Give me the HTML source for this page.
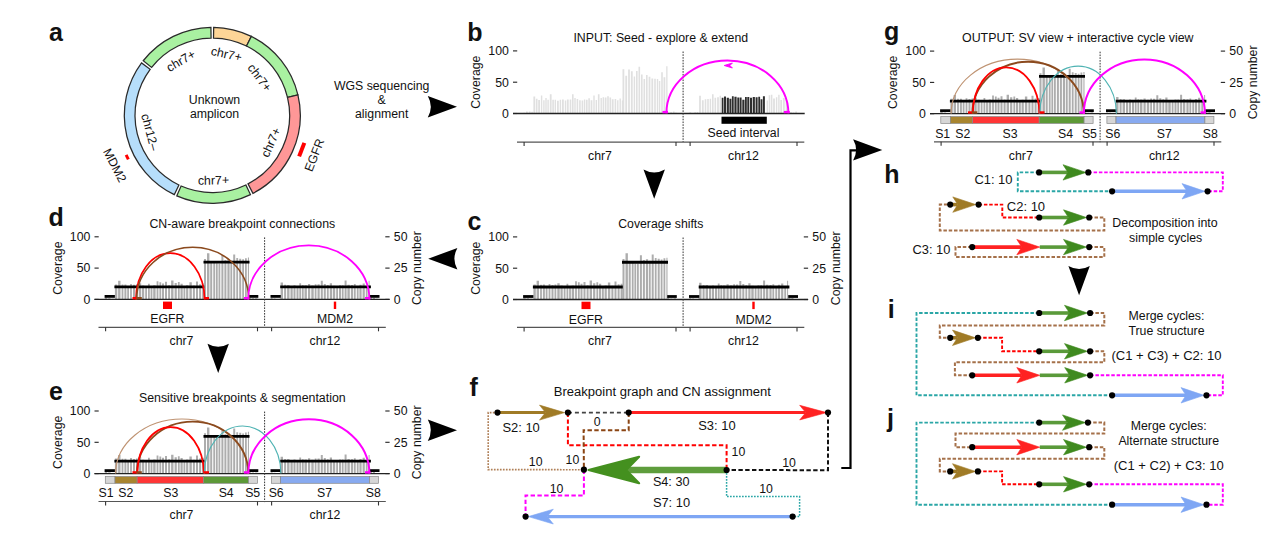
<!DOCTYPE html>
<html><head><meta charset="utf-8"><style>
html,body{margin:0;padding:0;background:#fff;}
svg{display:block;}
text{font-family:"Liberation Sans",sans-serif;fill:#111;}
</style></head><body>
<svg width="1269" height="535" viewBox="0 0 1269 535">
<rect width="1269" height="535" fill="#fff"/>
<path d="M213.68,27.31 A88.0,88.0 0 0 1 251.29,36.41 L246.55,46.00 A77.3,77.3 0 0 0 213.51,38.01 Z" fill="#fdd597" stroke="#2a2a2a" stroke-width="1.25"/>
<path d="M251.29,36.41 A88.0,88.0 0 0 1 297.90,94.91 L287.50,97.39 A77.3,77.3 0 0 0 246.55,46.00 Z" fill="#a9f1a1" stroke="#2a2a2a" stroke-width="1.25"/>
<path d="M297.90,94.91 A88.0,88.0 0 0 1 252.93,193.36 L247.99,183.87 A77.3,77.3 0 0 0 287.50,97.39 Z" fill="#ff9797" stroke="#2a2a2a" stroke-width="1.25"/>
<path d="M250.46,194.59 A88.0,88.0 0 0 1 176.79,195.82 L181.11,186.03 A77.3,77.3 0 0 0 245.82,184.95 Z" fill="#a9f1a1" stroke="#2a2a2a" stroke-width="1.25"/>
<path d="M174.28,194.66 A88.0,88.0 0 0 1 141.56,62.96 L150.16,69.32 A77.3,77.3 0 0 0 178.90,185.01 Z" fill="#b6defb" stroke="#2a2a2a" stroke-width="1.25"/>
<path d="M143.24,60.76 A88.0,88.0 0 0 1 210.92,27.31 L211.09,38.01 A77.3,77.3 0 0 0 151.64,67.39 Z" fill="#a9f1a1" stroke="#2a2a2a" stroke-width="1.25"/>
<text x="0" y="0" font-size="12.3" text-anchor="middle" fill="#111" transform="translate(180.80 60.74) rotate(330.00) translate(0 4.2)">chr7+</text>
<text x="0" y="0" font-size="12.3" text-anchor="middle" fill="#111" transform="translate(226.43 54.11) rotate(13.00) translate(0 4.2)">chr7+</text>
<text x="0" y="0" font-size="12.3" text-anchor="middle" fill="#111" transform="translate(259.65 77.64) rotate(53.00) translate(0 4.2)">chr7+</text>
<text x="0" y="0" font-size="12.3" text-anchor="middle" fill="#111" transform="translate(270.85 142.35) rotate(-65.20) translate(0 4.2)">chr7+</text>
<text x="0" y="0" font-size="12.3" text-anchor="middle" fill="#111" transform="translate(213.43 180.29) rotate(-1.00) translate(0 4.2)">chr7+</text>
<text x="0" y="0" font-size="12.3" text-anchor="middle" fill="#111" transform="translate(150.00 131.99) rotate(75.00) translate(0 4.2)">chr12–</text>
<text x="214.50" y="104.20" font-size="12.3" text-anchor="middle" >Unknown</text>
<text x="214.50" y="117.60" font-size="12.3" text-anchor="middle" >amplicon</text>
<rect x="-7.25" y="-2.00" width="14.5" height="4.0" fill="#ff0000" transform="translate(301.74 149.63) rotate(111.00)"/>
<rect x="-2.50" y="-1.50" width="5.0" height="3.0" fill="#ff0000" transform="translate(127.24 157.15) rotate(243.80)"/>
<text x="0" y="0" font-size="12.3" text-anchor="middle" fill="#111" transform="translate(314.41 155.11) rotate(-68.70) translate(0 4.2)">EGFR</text>
<text x="0" y="0" font-size="12.3" text-anchor="middle" fill="#111" transform="translate(114.82 165.40) rotate(62.80) translate(0 4.2)">MDM2</text>
<text x="49.00" y="40.80" font-size="25" font-weight="bold" fill="#000" >a</text>
<text x="381.70" y="89.80" font-size="12.3" text-anchor="middle" textLength="95.50" lengthAdjust="spacingAndGlyphs" >WGS sequencing</text>
<text x="381.70" y="104.00" font-size="12.3" text-anchor="middle" >&amp;</text>
<text x="381.70" y="118.00" font-size="12.3" text-anchor="middle" >alignment</text>
<path d="M457.00,106.70 L427.80,96.00 Q433.80,106.70 427.80,117.40 Z" fill="#000"/>
<text x="660.80" y="41.90" font-size="12.3" text-anchor="middle" textLength="174.70" lengthAdjust="spacingAndGlyphs" >INPUT: Seed - explore &amp; extend</text>
<line x1="513.00" y1="50.90" x2="517.20" y2="50.90" stroke="#222" stroke-width="1.1" />
<text x="508.90" y="55.20" font-size="12.3" text-anchor="end" >100</text>
<line x1="513.00" y1="82.20" x2="517.20" y2="82.20" stroke="#222" stroke-width="1.1" />
<text x="508.90" y="86.50" font-size="12.3" text-anchor="end" >50</text>
<line x1="513.00" y1="113.50" x2="517.20" y2="113.50" stroke="#222" stroke-width="1.1" />
<text x="508.90" y="117.80" font-size="12.3" text-anchor="end" >0</text>
<text x="476.00" y="82.20" font-size="12.3" text-anchor="middle" transform="rotate(-90.00 476.00 82.20)" dy="4.3">Coverage</text>
<path d="M523.30,113.50h1.80v-0.79h-1.80zM526.00,113.50h1.80v-2.09h-1.80zM528.80,113.50h1.80v-2.05h-1.80zM531.30,113.50h1.60v-1.77h-1.60zM533.40,113.50h1.80v-17.05h-1.80zM535.90,113.50h1.60v-14.68h-1.60zM538.20,113.50h1.80v-13.53h-1.80zM540.90,113.50h1.40v-17.97h-1.40zM543.20,113.50h1.40v-13.23h-1.40zM545.30,113.50h1.40v-15.48h-1.40zM547.40,113.50h1.40v-13.78h-1.40zM549.80,113.50h1.80v-19.29h-1.80zM552.30,113.50h1.60v-13.82h-1.60zM554.60,113.50h1.40v-13.70h-1.40zM557.00,113.50h1.80v-12.78h-1.80zM559.70,113.50h1.40v-13.86h-1.40zM562.00,113.50h1.80v-13.88h-1.80zM564.80,113.50h1.40v-12.97h-1.40zM566.90,113.50h1.80v-14.02h-1.80zM569.70,113.50h1.60v-14.05h-1.60zM572.00,113.50h1.60v-19.24h-1.60zM574.30,113.50h1.40v-15.42h-1.40zM576.60,113.50h1.60v-14.57h-1.60zM579.10,113.50h1.60v-13.15h-1.60zM581.60,113.50h1.60v-12.90h-1.60zM583.90,113.50h1.40v-13.96h-1.40zM586.00,113.50h1.60v-13.74h-1.60zM588.30,113.50h1.60v-15.18h-1.60zM590.60,113.50h1.80v-13.29h-1.80zM593.30,113.50h1.40v-17.91h-1.40zM595.60,113.50h1.40v-13.60h-1.40zM597.90,113.50h1.60v-19.33h-1.60zM600.50,113.50h1.40v-15.58h-1.40zM602.60,113.50h1.40v-16.21h-1.40zM604.70,113.50h1.80v-15.91h-1.80zM607.20,113.50h1.60v-17.23h-1.60zM609.50,113.50h1.60v-16.00h-1.60zM611.80,113.50h1.80v-14.36h-1.80zM614.60,113.50h1.60v-14.45h-1.60zM617.10,113.50h1.40v-13.16h-1.40zM619.50,113.50h1.40v-14.97h-1.40zM621.80,113.50h0.70v-13.08h-0.70zM622.50,113.50h1.80v-44.15h-1.80zM625.30,113.50h1.80v-37.66h-1.80zM628.10,113.50h1.80v-44.07h-1.80zM630.90,113.50h1.80v-42.18h-1.80zM633.70,113.50h1.40v-37.07h-1.40zM636.00,113.50h1.60v-42.55h-1.60zM638.50,113.50h1.60v-46.72h-1.60zM641.00,113.50h1.60v-39.02h-1.60zM643.50,113.50h1.60v-34.55h-1.60zM646.00,113.50h1.60v-38.50h-1.60zM648.60,113.50h1.80v-36.70h-1.80zM651.40,113.50h1.80v-35.01h-1.80zM654.20,113.50h1.60v-34.77h-1.60zM656.80,113.50h1.40v-34.54h-1.40zM658.90,113.50h1.40v-32.49h-1.40zM661.20,113.50h1.60v-41.24h-1.60zM663.50,113.50h1.80v-36.32h-1.80zM666.20,113.50h1.30v-47.14h-1.30zM667.50,113.50h1.80v-0.87h-1.80zM670.20,113.50h1.80v-1.27h-1.80zM673.00,113.50h1.60v-2.12h-1.60zM675.30,113.50h1.30v-1.08h-1.30zM689.30,113.50h1.80v-1.32h-1.80zM692.00,113.50h1.40v-0.60h-1.40zM694.30,113.50h1.80v-1.21h-1.80zM696.80,113.50h1.40v-1.46h-1.40zM699.10,113.50h1.80v-17.78h-1.80zM701.90,113.50h1.80v-13.26h-1.80zM704.70,113.50h1.60v-14.28h-1.60zM707.20,113.50h1.60v-14.45h-1.60zM709.70,113.50h1.40v-14.86h-1.40zM712.00,113.50h1.60v-19.20h-1.60zM714.50,113.50h1.60v-15.74h-1.60zM717.10,113.50h1.80v-16.14h-1.80zM719.60,113.50h1.40v-17.65h-1.40zM766.60,113.50h1.40v-13.01h-1.40zM768.70,113.50h1.40v-18.36h-1.40zM770.80,113.50h1.60v-18.81h-1.60zM773.10,113.50h1.80v-15.03h-1.80zM775.90,113.50h1.40v-16.26h-1.40zM778.20,113.50h1.40v-18.66h-1.40zM780.30,113.50h1.80v-13.52h-1.80zM783.10,113.50h1.60v-15.38h-1.60zM785.70,113.50h1.80v-13.19h-1.80zM788.10,113.50h1.40v-0.32h-1.40zM790.20,113.50h1.60v-1.60h-1.60zM792.70,113.50h1.60v-0.97h-1.60zM795.30,113.50h1.60v-2.04h-1.60z" fill="#e0e0e0"/>
<path d="M721.70,113.50h1.80v-15.85h-1.80zM724.00,113.50h2.00v-16.98h-2.00zM726.70,113.50h2.20v-15.81h-2.20zM729.40,113.50h2.00v-14.68h-2.00zM731.90,113.50h1.80v-17.26h-1.80zM734.40,113.50h2.20v-16.70h-2.20zM737.30,113.50h2.00v-16.01h-2.00zM739.80,113.50h1.80v-16.00h-1.80zM742.30,113.50h2.20v-13.83h-2.20zM745.00,113.50h1.80v-16.43h-1.80zM747.30,113.50h2.00v-16.51h-2.00zM750.00,113.50h2.00v-15.86h-2.00zM752.70,113.50h2.20v-16.53h-2.20zM755.60,113.50h2.00v-16.32h-2.00zM758.30,113.50h1.80v-16.85h-1.80zM760.60,113.50h1.80v-14.25h-1.80zM762.90,113.50h2.00v-17.16h-2.00z" fill="#2e2e2e"/>
<line x1="513.00" y1="113.50" x2="804.70" y2="113.50" stroke="#222" stroke-width="1.3" />
<line x1="683.10" y1="51.50" x2="683.10" y2="142.00" stroke="#333" stroke-width="1" stroke-dasharray="1.6,1.2"/>
<line x1="517.00" y1="142.04" x2="804.30" y2="142.04" stroke="#555" stroke-width="1.2" />
<line x1="524.10" y1="142.04" x2="524.10" y2="146.04" stroke="#333" stroke-width="1.1" />
<line x1="676.00" y1="142.04" x2="676.00" y2="146.04" stroke="#333" stroke-width="1.1" />
<line x1="690.10" y1="142.04" x2="690.10" y2="146.04" stroke="#333" stroke-width="1.1" />
<line x1="797.00" y1="142.04" x2="797.00" y2="146.04" stroke="#333" stroke-width="1.1" />
<text x="600.00" y="159.78" font-size="12.3" text-anchor="middle" >chr7</text>
<text x="743.50" y="159.78" font-size="12.3" text-anchor="middle" >chr12</text>
<rect x="721.50" y="116.70" width="45.3" height="7.1" fill="#000"/>
<text x="743.50" y="136.50" font-size="12.3" text-anchor="middle" >Seed interval</text>
<path d="M666.4,113.3 A61,52.8 0 0 1 788.4,113.3" fill="none" stroke="#ff00ff" stroke-width="1.9"/>
<line x1="662.50" y1="112.10" x2="668.00" y2="112.10" stroke="#ff00ff" stroke-width="2.4" />
<line x1="783.80" y1="112.10" x2="789.80" y2="112.10" stroke="#ff00ff" stroke-width="2.4" />
<path d="M724.2,65.5 L732.4,63.0 L729.9,65.5 L732.4,68.0 Z" fill="#ff00ff" stroke="#ff00ff" stroke-width="0.9" stroke-linejoin="round"/>
<text x="467.30" y="40.80" font-size="25" font-weight="bold" fill="#000" >b</text>
<path d="M654.20,198.80 L643.50,169.60 Q654.20,175.60 664.90,169.60 Z" fill="#000"/>
<text x="660.80" y="227.90" font-size="12.3" text-anchor="middle" textLength="85.10" lengthAdjust="spacingAndGlyphs" >Coverage shifts</text>
<line x1="513.00" y1="236.90" x2="517.20" y2="236.90" stroke="#222" stroke-width="1.1" />
<text x="508.90" y="241.20" font-size="12.3" text-anchor="end" >100</text>
<line x1="513.00" y1="268.20" x2="517.20" y2="268.20" stroke="#222" stroke-width="1.1" />
<text x="508.90" y="272.50" font-size="12.3" text-anchor="end" >50</text>
<line x1="513.00" y1="299.50" x2="517.20" y2="299.50" stroke="#222" stroke-width="1.1" />
<text x="508.90" y="303.80" font-size="12.3" text-anchor="end" >0</text>
<text x="476.00" y="268.20" font-size="12.3" text-anchor="middle" transform="rotate(-90.00 476.00 268.20)" dy="4.3">Coverage</text>
<line x1="803.80" y1="236.90" x2="808.10" y2="236.90" stroke="#222" stroke-width="1.1" />
<text x="812.30" y="241.20" font-size="12.3" >50</text>
<line x1="803.80" y1="268.20" x2="808.10" y2="268.20" stroke="#222" stroke-width="1.1" />
<text x="812.30" y="272.50" font-size="12.3" >25</text>
<line x1="803.80" y1="299.50" x2="808.10" y2="299.50" stroke="#222" stroke-width="1.1" />
<text x="812.30" y="303.80" font-size="12.3" >0</text>
<text x="835.30" y="268.20" font-size="12.3" text-anchor="middle" transform="rotate(-90.00 835.30 268.20)" dy="4.3">Copy number</text>
<path d="M523.30,299.50h2.40v-1.94h-2.40zM526.70,299.50h2.40v-1.26h-2.40zM530.20,299.50h2.00v-0.65h-2.00zM533.40,299.50h2.40v-14.98h-2.40zM536.60,299.50h2.40v-18.69h-2.40zM540.10,299.50h1.80v-14.86h-1.80zM542.90,299.50h2.00v-14.95h-2.00zM545.70,299.50h1.80v-12.90h-1.80zM548.60,299.50h1.80v-15.50h-1.80zM551.50,299.50h2.00v-14.59h-2.00zM554.50,299.50h1.80v-15.09h-1.80zM557.30,299.50h2.40v-16.27h-2.40zM560.50,299.50h2.20v-13.88h-2.20zM563.70,299.50h1.80v-13.02h-1.80zM566.50,299.50h1.80v-15.74h-1.80zM569.10,299.50h1.80v-13.52h-1.80zM571.70,299.50h2.40v-14.09h-2.40zM575.10,299.50h1.80v-18.18h-1.80zM577.90,299.50h1.80v-17.19h-1.80zM580.50,299.50h2.00v-15.87h-2.00zM583.50,299.50h2.00v-17.56h-2.00zM586.60,299.50h2.00v-14.24h-2.00zM589.60,299.50h2.40v-18.90h-2.40zM593.10,299.50h2.20v-16.35h-2.20zM596.40,299.50h1.80v-17.31h-1.80zM599.00,299.50h2.20v-15.68h-2.20zM602.00,299.50h1.80v-13.50h-1.80zM604.60,299.50h2.20v-14.07h-2.20zM607.90,299.50h2.40v-17.10h-2.40zM611.40,299.50h2.00v-13.86h-2.00zM614.50,299.50h2.00v-18.01h-2.00zM617.60,299.50h2.00v-15.18h-2.00zM620.60,299.50h1.80v-15.80h-1.80zM622.50,299.50h2.00v-40.41h-2.00zM625.50,299.50h2.40v-46.19h-2.40zM628.70,299.50h2.00v-37.14h-2.00zM631.80,299.50h1.80v-37.47h-1.80zM634.40,299.50h1.80v-36.12h-1.80zM637.00,299.50h1.80v-35.98h-1.80zM639.90,299.50h2.00v-44.36h-2.00zM642.90,299.50h2.00v-39.45h-2.00zM645.90,299.50h2.20v-40.16h-2.20zM648.90,299.50h1.80v-38.76h-1.80zM651.70,299.50h2.00v-45.01h-2.00zM654.80,299.50h1.80v-41.43h-1.80zM657.70,299.50h2.00v-40.75h-2.00zM660.70,299.50h1.80v-40.06h-1.80zM663.50,299.50h1.80v-41.20h-1.80zM666.40,299.50h1.10v-41.80h-1.10zM667.50,299.50h1.80v-2.19h-1.80zM670.30,299.50h2.20v-1.04h-2.20zM673.60,299.50h2.40v-1.14h-2.40zM689.30,299.50h1.80v-1.29h-1.80zM692.20,299.50h1.80v-0.89h-1.80zM694.80,299.50h2.40v-0.34h-2.40zM698.30,299.50h0.80v-1.24h-0.80zM699.10,299.50h2.40v-16.78h-2.40zM702.60,299.50h2.00v-14.59h-2.00zM705.60,299.50h2.40v-14.52h-2.40zM709.00,299.50h2.20v-13.47h-2.20zM712.00,299.50h2.00v-14.12h-2.00zM715.00,299.50h2.00v-13.25h-2.00zM717.80,299.50h1.80v-16.10h-1.80zM720.40,299.50h1.80v-14.35h-1.80zM723.00,299.50h2.40v-14.11h-2.40zM726.50,299.50h2.20v-15.28h-2.20zM729.80,299.50h2.40v-13.89h-2.40zM733.20,299.50h1.80v-15.15h-1.80zM736.00,299.50h2.20v-15.05h-2.20zM739.30,299.50h2.00v-18.54h-2.00zM742.30,299.50h2.00v-15.50h-2.00zM745.40,299.50h1.80v-14.34h-1.80zM748.30,299.50h2.20v-16.13h-2.20zM751.30,299.50h2.40v-13.67h-2.40zM754.70,299.50h1.80v-13.40h-1.80zM757.50,299.50h2.00v-14.15h-2.00zM760.30,299.50h1.80v-14.21h-1.80zM763.10,299.50h2.00v-18.98h-2.00zM765.90,299.50h2.40v-14.70h-2.40zM769.40,299.50h2.20v-14.40h-2.20zM772.40,299.50h1.80v-15.30h-1.80zM775.30,299.50h1.80v-13.52h-1.80zM777.90,299.50h2.20v-14.65h-2.20zM781.10,299.50h2.20v-15.96h-2.20zM784.30,299.50h1.80v-12.90h-1.80zM787.10,299.50h1.00v-18.69h-1.00zM788.10,299.50h2.40v-1.82h-2.40zM791.30,299.50h2.20v-1.60h-2.20zM794.30,299.50h2.40v-0.58h-2.40z" fill="#adadad"/>
<line x1="513.00" y1="299.50" x2="808.10" y2="299.50" stroke="#222" stroke-width="1.3" />
<line x1="683.10" y1="237.50" x2="683.10" y2="328.00" stroke="#333" stroke-width="1" stroke-dasharray="1.6,1.2"/>
<line x1="517.00" y1="327.40" x2="804.30" y2="327.40" stroke="#555" stroke-width="1.2" />
<line x1="524.10" y1="327.40" x2="524.10" y2="331.40" stroke="#333" stroke-width="1.1" />
<line x1="676.00" y1="327.40" x2="676.00" y2="331.40" stroke="#333" stroke-width="1.1" />
<line x1="690.10" y1="327.40" x2="690.10" y2="331.40" stroke="#333" stroke-width="1.1" />
<line x1="797.00" y1="327.40" x2="797.00" y2="331.40" stroke="#333" stroke-width="1.1" />
<text x="600.00" y="345.30" font-size="12.3" text-anchor="middle" >chr7</text>
<text x="743.50" y="345.30" font-size="12.3" text-anchor="middle" >chr12</text>
<line x1="523.10" y1="296.50" x2="533.40" y2="296.50" stroke="#000" stroke-width="2.8" />
<line x1="532.90" y1="286.98" x2="622.80" y2="286.98" stroke="#000" stroke-width="2.8" />
<line x1="622.00" y1="262.25" x2="668.00" y2="262.25" stroke="#000" stroke-width="2.8" />
<line x1="667.20" y1="296.50" x2="676.80" y2="296.50" stroke="#000" stroke-width="2.8" />
<line x1="689.00" y1="296.50" x2="699.30" y2="296.50" stroke="#000" stroke-width="2.8" />
<line x1="698.70" y1="286.98" x2="789.40" y2="286.98" stroke="#000" stroke-width="2.8" />
<line x1="788.20" y1="296.50" x2="798.00" y2="296.50" stroke="#000" stroke-width="2.8" />
<rect x="581.50" y="301.70" width="9.0" height="7.4" fill="#ff0000"/>
<rect x="752.30" y="301.70" width="2.4" height="7.4" fill="#ff0000"/>
<text x="585.90" y="323.50" font-size="12.3" text-anchor="middle" >EGFR</text>
<text x="753.50" y="323.50" font-size="12.3" text-anchor="middle" >MDM2</text>
<text x="467.60" y="230.00" font-size="25" font-weight="bold" fill="#000" >c</text>
<path d="M428.20,258.70 L457.40,248.00 Q451.40,258.70 457.40,269.40 Z" fill="#000"/>
<text x="242.30" y="227.80" font-size="12.3" text-anchor="middle" textLength="185.80" lengthAdjust="spacingAndGlyphs" >CN-aware breakpoint connections</text>
<line x1="94.50" y1="236.80" x2="98.70" y2="236.80" stroke="#222" stroke-width="1.1" />
<text x="90.40" y="241.10" font-size="12.3" text-anchor="end" >100</text>
<line x1="94.50" y1="268.10" x2="98.70" y2="268.10" stroke="#222" stroke-width="1.1" />
<text x="90.40" y="272.40" font-size="12.3" text-anchor="end" >50</text>
<line x1="94.50" y1="299.40" x2="98.70" y2="299.40" stroke="#222" stroke-width="1.1" />
<text x="90.40" y="303.70" font-size="12.3" text-anchor="end" >0</text>
<text x="57.50" y="268.10" font-size="12.3" text-anchor="middle" transform="rotate(-90.00 57.50 268.10)" dy="4.3">Coverage</text>
<line x1="385.30" y1="236.80" x2="389.60" y2="236.80" stroke="#222" stroke-width="1.1" />
<text x="393.80" y="241.10" font-size="12.3" >50</text>
<line x1="385.30" y1="268.10" x2="389.60" y2="268.10" stroke="#222" stroke-width="1.1" />
<text x="393.80" y="272.40" font-size="12.3" >25</text>
<line x1="385.30" y1="299.40" x2="389.60" y2="299.40" stroke="#222" stroke-width="1.1" />
<text x="393.80" y="303.70" font-size="12.3" >0</text>
<text x="416.80" y="268.10" font-size="12.3" text-anchor="middle" transform="rotate(-90.00 416.80 268.10)" dy="4.3">Copy number</text>
<path d="M104.80,299.40h2.40v-1.94h-2.40zM108.20,299.40h2.40v-1.26h-2.40zM111.70,299.40h2.00v-0.65h-2.00zM114.90,299.40h2.40v-14.98h-2.40zM118.10,299.40h2.40v-18.69h-2.40zM121.60,299.40h1.80v-14.86h-1.80zM124.40,299.40h2.00v-14.95h-2.00zM127.20,299.40h1.80v-12.90h-1.80zM130.10,299.40h1.80v-15.50h-1.80zM133.00,299.40h2.00v-14.59h-2.00zM136.00,299.40h1.80v-15.09h-1.80zM138.80,299.40h2.40v-16.27h-2.40zM142.00,299.40h2.20v-13.88h-2.20zM145.20,299.40h1.80v-13.02h-1.80zM148.00,299.40h1.80v-15.74h-1.80zM150.60,299.40h1.80v-13.52h-1.80zM153.20,299.40h2.40v-14.09h-2.40zM156.60,299.40h1.80v-18.18h-1.80zM159.40,299.40h1.80v-17.19h-1.80zM162.00,299.40h2.00v-15.87h-2.00zM165.00,299.40h2.00v-17.56h-2.00zM168.10,299.40h2.00v-14.24h-2.00zM171.10,299.40h2.40v-18.90h-2.40zM174.60,299.40h2.20v-16.35h-2.20zM177.90,299.40h1.80v-17.31h-1.80zM180.50,299.40h2.20v-15.68h-2.20zM183.50,299.40h1.80v-13.50h-1.80zM186.10,299.40h2.20v-14.07h-2.20zM189.40,299.40h2.40v-17.10h-2.40zM192.90,299.40h2.00v-13.86h-2.00zM196.00,299.40h2.00v-18.01h-2.00zM199.10,299.40h2.00v-15.18h-2.00zM202.10,299.40h1.80v-15.80h-1.80zM204.00,299.40h2.00v-40.41h-2.00zM207.00,299.40h2.40v-46.19h-2.40zM210.20,299.40h2.00v-37.14h-2.00zM213.30,299.40h1.80v-37.47h-1.80zM215.90,299.40h1.80v-36.12h-1.80zM218.50,299.40h1.80v-35.98h-1.80zM221.40,299.40h2.00v-44.36h-2.00zM224.40,299.40h2.00v-39.45h-2.00zM227.40,299.40h2.20v-40.16h-2.20zM230.40,299.40h1.80v-38.76h-1.80zM233.20,299.40h2.00v-45.01h-2.00zM236.30,299.40h1.80v-41.43h-1.80zM239.20,299.40h2.00v-40.75h-2.00zM242.20,299.40h1.80v-40.06h-1.80zM245.00,299.40h1.80v-41.20h-1.80zM247.90,299.40h1.10v-41.80h-1.10zM249.00,299.40h1.80v-2.19h-1.80zM251.80,299.40h2.20v-1.04h-2.20zM255.10,299.40h2.40v-1.14h-2.40zM270.80,299.40h1.80v-1.29h-1.80zM273.70,299.40h1.80v-0.89h-1.80zM276.30,299.40h2.40v-0.34h-2.40zM279.80,299.40h0.80v-1.24h-0.80zM280.60,299.40h2.40v-16.78h-2.40zM284.10,299.40h2.00v-14.59h-2.00zM287.10,299.40h2.40v-14.52h-2.40zM290.50,299.40h2.20v-13.47h-2.20zM293.50,299.40h2.00v-14.12h-2.00zM296.50,299.40h2.00v-13.25h-2.00zM299.30,299.40h1.80v-16.10h-1.80zM301.90,299.40h1.80v-14.35h-1.80zM304.50,299.40h2.40v-14.11h-2.40zM308.00,299.40h2.20v-15.28h-2.20zM311.30,299.40h2.40v-13.89h-2.40zM314.70,299.40h1.80v-15.15h-1.80zM317.50,299.40h2.20v-15.05h-2.20zM320.80,299.40h2.00v-18.54h-2.00zM323.80,299.40h2.00v-15.50h-2.00zM326.90,299.40h1.80v-14.34h-1.80zM329.80,299.40h2.20v-16.13h-2.20zM332.80,299.40h2.40v-13.67h-2.40zM336.20,299.40h1.80v-13.40h-1.80zM339.00,299.40h2.00v-14.15h-2.00zM341.80,299.40h1.80v-14.21h-1.80zM344.60,299.40h2.00v-18.98h-2.00zM347.40,299.40h2.40v-14.70h-2.40zM350.90,299.40h2.20v-14.40h-2.20zM353.90,299.40h1.80v-15.30h-1.80zM356.80,299.40h1.80v-13.52h-1.80zM359.40,299.40h2.20v-14.65h-2.20zM362.60,299.40h2.20v-15.96h-2.20zM365.80,299.40h1.80v-12.90h-1.80zM368.60,299.40h1.00v-18.69h-1.00zM369.60,299.40h2.40v-1.82h-2.40zM372.80,299.40h2.20v-1.60h-2.20zM375.80,299.40h2.40v-0.58h-2.40z" fill="#adadad"/>
<line x1="94.50" y1="299.40" x2="389.60" y2="299.40" stroke="#222" stroke-width="1.3" />
<line x1="264.60" y1="237.40" x2="264.60" y2="327.90" stroke="#333" stroke-width="1" stroke-dasharray="1.6,1.2"/>
<line x1="98.50" y1="327.30" x2="385.80" y2="327.30" stroke="#555" stroke-width="1.2" />
<line x1="105.60" y1="327.30" x2="105.60" y2="331.30" stroke="#333" stroke-width="1.1" />
<line x1="257.50" y1="327.30" x2="257.50" y2="331.30" stroke="#333" stroke-width="1.1" />
<line x1="271.60" y1="327.30" x2="271.60" y2="331.30" stroke="#333" stroke-width="1.1" />
<line x1="378.50" y1="327.30" x2="378.50" y2="331.30" stroke="#333" stroke-width="1.1" />
<text x="181.50" y="345.20" font-size="12.3" text-anchor="middle" >chr7</text>
<text x="325.00" y="345.20" font-size="12.3" text-anchor="middle" >chr12</text>
<line x1="104.60" y1="296.40" x2="114.90" y2="296.40" stroke="#000" stroke-width="2.8" />
<line x1="114.40" y1="286.88" x2="204.30" y2="286.88" stroke="#000" stroke-width="2.8" />
<line x1="203.50" y1="262.15" x2="249.50" y2="262.15" stroke="#000" stroke-width="2.8" />
<line x1="248.70" y1="296.40" x2="258.30" y2="296.40" stroke="#000" stroke-width="2.8" />
<line x1="270.50" y1="296.40" x2="280.80" y2="296.40" stroke="#000" stroke-width="2.8" />
<line x1="280.20" y1="286.88" x2="370.90" y2="286.88" stroke="#000" stroke-width="2.8" />
<line x1="369.70" y1="296.40" x2="379.50" y2="296.40" stroke="#000" stroke-width="2.8" />
<path d="M135.90,299.40 A34.35,46.30 0 0 1 204.60,299.40" fill="none" stroke="#ff0000" stroke-width="1.7"/>
<path d="M136.60,299.40 A56.10,52.20 0 0 1 248.80,299.40" fill="none" stroke="#8b4a1e" stroke-width="1.6"/>
<path d="M248.20,299.40 A60.60,54.00 0 0 1 369.40,299.40" fill="none" stroke="#ff00ff" stroke-width="1.8"/>
<line x1="132.50" y1="298.20" x2="136.50" y2="298.20" stroke="#ff0000" stroke-width="2.4" />
<line x1="136.50" y1="298.20" x2="141.80" y2="298.20" stroke="#8b4a1e" stroke-width="2.4" />
<line x1="204.00" y1="298.20" x2="209.00" y2="298.20" stroke="#ff0000" stroke-width="2.4" />
<line x1="244.00" y1="298.20" x2="249.20" y2="298.20" stroke="#ff00ff" stroke-width="2.4" />
<line x1="365.00" y1="298.20" x2="370.30" y2="298.20" stroke="#ff00ff" stroke-width="2.4" />
<rect x="163.00" y="301.60" width="9.0" height="7.4" fill="#ff0000"/>
<rect x="333.80" y="301.60" width="2.4" height="7.4" fill="#ff0000"/>
<text x="167.40" y="323.40" font-size="12.3" text-anchor="middle" >EGFR</text>
<text x="335.00" y="323.40" font-size="12.3" text-anchor="middle" >MDM2</text>
<text x="48.60" y="225.80" font-size="25" font-weight="bold" fill="#000" >d</text>
<path d="M218.20,373.00 L207.50,343.80 Q218.20,349.80 228.90,343.80 Z" fill="#000"/>
<text x="242.30" y="402.00" font-size="12.3" text-anchor="middle" textLength="206.70" lengthAdjust="spacingAndGlyphs" >Sensitive breakpoints &amp; segmentation</text>
<line x1="94.50" y1="411.00" x2="98.70" y2="411.00" stroke="#222" stroke-width="1.1" />
<text x="90.40" y="415.30" font-size="12.3" text-anchor="end" >100</text>
<line x1="94.50" y1="442.30" x2="98.70" y2="442.30" stroke="#222" stroke-width="1.1" />
<text x="90.40" y="446.60" font-size="12.3" text-anchor="end" >50</text>
<line x1="94.50" y1="473.60" x2="98.70" y2="473.60" stroke="#222" stroke-width="1.1" />
<text x="90.40" y="477.90" font-size="12.3" text-anchor="end" >0</text>
<text x="57.50" y="442.30" font-size="12.3" text-anchor="middle" transform="rotate(-90.00 57.50 442.30)" dy="4.3">Coverage</text>
<line x1="385.30" y1="411.00" x2="389.60" y2="411.00" stroke="#222" stroke-width="1.1" />
<text x="393.80" y="415.30" font-size="12.3" >50</text>
<line x1="385.30" y1="442.30" x2="389.60" y2="442.30" stroke="#222" stroke-width="1.1" />
<text x="393.80" y="446.60" font-size="12.3" >25</text>
<line x1="385.30" y1="473.60" x2="389.60" y2="473.60" stroke="#222" stroke-width="1.1" />
<text x="393.80" y="477.90" font-size="12.3" >0</text>
<text x="416.80" y="442.30" font-size="12.3" text-anchor="middle" transform="rotate(-90.00 416.80 442.30)" dy="4.3">Copy number</text>
<path d="M104.80,473.60h2.40v-1.94h-2.40zM108.20,473.60h2.40v-1.26h-2.40zM111.70,473.60h2.00v-0.65h-2.00zM114.90,473.60h2.40v-14.98h-2.40zM118.10,473.60h2.40v-18.69h-2.40zM121.60,473.60h1.80v-14.86h-1.80zM124.40,473.60h2.00v-14.95h-2.00zM127.20,473.60h1.80v-12.90h-1.80zM130.10,473.60h1.80v-15.50h-1.80zM133.00,473.60h2.00v-14.59h-2.00zM136.00,473.60h1.80v-15.09h-1.80zM138.80,473.60h2.40v-16.27h-2.40zM142.00,473.60h2.20v-13.88h-2.20zM145.20,473.60h1.80v-13.02h-1.80zM148.00,473.60h1.80v-15.74h-1.80zM150.60,473.60h1.80v-13.52h-1.80zM153.20,473.60h2.40v-14.09h-2.40zM156.60,473.60h1.80v-18.18h-1.80zM159.40,473.60h1.80v-17.19h-1.80zM162.00,473.60h2.00v-15.87h-2.00zM165.00,473.60h2.00v-17.56h-2.00zM168.10,473.60h2.00v-14.24h-2.00zM171.10,473.60h2.40v-18.90h-2.40zM174.60,473.60h2.20v-16.35h-2.20zM177.90,473.60h1.80v-17.31h-1.80zM180.50,473.60h2.20v-15.68h-2.20zM183.50,473.60h1.80v-13.50h-1.80zM186.10,473.60h2.20v-14.07h-2.20zM189.40,473.60h2.40v-17.10h-2.40zM192.90,473.60h2.00v-13.86h-2.00zM196.00,473.60h2.00v-18.01h-2.00zM199.10,473.60h2.00v-15.18h-2.00zM202.10,473.60h1.80v-15.80h-1.80zM204.00,473.60h2.00v-40.41h-2.00zM207.00,473.60h2.40v-46.19h-2.40zM210.20,473.60h2.00v-37.14h-2.00zM213.30,473.60h1.80v-37.47h-1.80zM215.90,473.60h1.80v-36.12h-1.80zM218.50,473.60h1.80v-35.98h-1.80zM221.40,473.60h2.00v-44.36h-2.00zM224.40,473.60h2.00v-39.45h-2.00zM227.40,473.60h2.20v-40.16h-2.20zM230.40,473.60h1.80v-38.76h-1.80zM233.20,473.60h2.00v-45.01h-2.00zM236.30,473.60h1.80v-41.43h-1.80zM239.20,473.60h2.00v-40.75h-2.00zM242.20,473.60h1.80v-40.06h-1.80zM245.00,473.60h1.80v-41.20h-1.80zM247.90,473.60h1.10v-41.80h-1.10zM249.00,473.60h1.80v-2.19h-1.80zM251.80,473.60h2.20v-1.04h-2.20zM255.10,473.60h2.40v-1.14h-2.40zM270.80,473.60h1.80v-1.29h-1.80zM273.70,473.60h1.80v-0.89h-1.80zM276.30,473.60h2.40v-0.34h-2.40zM279.80,473.60h0.80v-1.24h-0.80zM280.60,473.60h2.40v-16.78h-2.40zM284.10,473.60h2.00v-14.59h-2.00zM287.10,473.60h2.40v-14.52h-2.40zM290.50,473.60h2.20v-13.47h-2.20zM293.50,473.60h2.00v-14.12h-2.00zM296.50,473.60h2.00v-13.25h-2.00zM299.30,473.60h1.80v-16.10h-1.80zM301.90,473.60h1.80v-14.35h-1.80zM304.50,473.60h2.40v-14.11h-2.40zM308.00,473.60h2.20v-15.28h-2.20zM311.30,473.60h2.40v-13.89h-2.40zM314.70,473.60h1.80v-15.15h-1.80zM317.50,473.60h2.20v-15.05h-2.20zM320.80,473.60h2.00v-18.54h-2.00zM323.80,473.60h2.00v-15.50h-2.00zM326.90,473.60h1.80v-14.34h-1.80zM329.80,473.60h2.20v-16.13h-2.20zM332.80,473.60h2.40v-13.67h-2.40zM336.20,473.60h1.80v-13.40h-1.80zM339.00,473.60h2.00v-14.15h-2.00zM341.80,473.60h1.80v-14.21h-1.80zM344.60,473.60h2.00v-18.98h-2.00zM347.40,473.60h2.40v-14.70h-2.40zM350.90,473.60h2.20v-14.40h-2.20zM353.90,473.60h1.80v-15.30h-1.80zM356.80,473.60h1.80v-13.52h-1.80zM359.40,473.60h2.20v-14.65h-2.20zM362.60,473.60h2.20v-15.96h-2.20zM365.80,473.60h1.80v-12.90h-1.80zM368.60,473.60h1.00v-18.69h-1.00zM369.60,473.60h2.40v-1.82h-2.40zM372.80,473.60h2.20v-1.60h-2.20zM375.80,473.60h2.40v-0.58h-2.40z" fill="#adadad"/>
<line x1="94.50" y1="473.60" x2="389.60" y2="473.60" stroke="#222" stroke-width="1.3" />
<line x1="264.60" y1="411.60" x2="264.60" y2="502.10" stroke="#333" stroke-width="1" stroke-dasharray="1.6,1.2"/>
<line x1="98.50" y1="501.50" x2="385.80" y2="501.50" stroke="#555" stroke-width="1.2" />
<line x1="105.60" y1="501.50" x2="105.60" y2="505.50" stroke="#333" stroke-width="1.1" />
<line x1="257.50" y1="501.50" x2="257.50" y2="505.50" stroke="#333" stroke-width="1.1" />
<line x1="271.60" y1="501.50" x2="271.60" y2="505.50" stroke="#333" stroke-width="1.1" />
<line x1="378.50" y1="501.50" x2="378.50" y2="505.50" stroke="#333" stroke-width="1.1" />
<text x="181.50" y="519.40" font-size="12.3" text-anchor="middle" >chr7</text>
<text x="325.00" y="519.40" font-size="12.3" text-anchor="middle" >chr12</text>
<line x1="104.60" y1="470.60" x2="114.90" y2="470.60" stroke="#000" stroke-width="2.8" />
<line x1="114.40" y1="461.08" x2="204.30" y2="461.08" stroke="#000" stroke-width="2.8" />
<line x1="203.50" y1="436.35" x2="249.50" y2="436.35" stroke="#000" stroke-width="2.8" />
<line x1="248.70" y1="470.60" x2="258.30" y2="470.60" stroke="#000" stroke-width="2.8" />
<line x1="270.50" y1="470.60" x2="280.80" y2="470.60" stroke="#000" stroke-width="2.8" />
<line x1="280.20" y1="461.08" x2="370.90" y2="461.08" stroke="#000" stroke-width="2.8" />
<line x1="369.70" y1="470.60" x2="379.50" y2="470.60" stroke="#000" stroke-width="2.8" />
<path d="M115.60,473.60 A66.35,54.60 0 0 1 248.30,473.60" fill="none" stroke="#bf9372" stroke-width="1.15"/>
<path d="M136.90,473.60 A55.70,52.00 0 0 1 248.30,473.60" fill="none" stroke="#8b4a1e" stroke-width="1.9"/>
<path d="M137.30,473.60 A33.30,46.40 0 0 1 203.90,473.60" fill="none" stroke="#ff0000" stroke-width="1.8"/>
<path d="M204.30,473.60 A38.30,47.60 0 0 1 280.90,473.60" fill="none" stroke="#4fb3b3" stroke-width="1.1"/>
<path d="M248.30,473.60 A60.55,54.30 0 0 1 369.40,473.60" fill="none" stroke="#ff00ff" stroke-width="2.0"/>
<line x1="132.50" y1="472.40" x2="136.50" y2="472.40" stroke="#ff0000" stroke-width="2.4" />
<line x1="136.50" y1="472.40" x2="141.80" y2="472.40" stroke="#8b4a1e" stroke-width="2.4" />
<line x1="204.00" y1="472.40" x2="209.00" y2="472.40" stroke="#ff0000" stroke-width="2.4" />
<line x1="244.00" y1="472.40" x2="249.20" y2="472.40" stroke="#ff00ff" stroke-width="2.4" />
<line x1="365.00" y1="472.40" x2="370.30" y2="472.40" stroke="#ff00ff" stroke-width="2.4" />
<rect x="105.30" y="476.50" width="9.70" height="6.8" fill="#d6d6d6" stroke="#888" stroke-width="0.7"/>
<rect x="115.00" y="476.50" width="22.10" height="6.8" fill="#a8852f" stroke="#888" stroke-width="0.7"/>
<rect x="137.10" y="476.50" width="66.60" height="6.8" fill="#ff3535" stroke="#888" stroke-width="0.7"/>
<rect x="203.70" y="476.50" width="44.90" height="6.8" fill="#5d9937" stroke="#888" stroke-width="0.7"/>
<rect x="248.60" y="476.50" width="9.00" height="6.8" fill="#d6d6d6" stroke="#888" stroke-width="0.7"/>
<rect x="271.40" y="476.50" width="9.10" height="6.8" fill="#d6d6d6" stroke="#888" stroke-width="0.7"/>
<rect x="280.50" y="476.50" width="88.90" height="6.8" fill="#88aaf0" stroke="#888" stroke-width="0.7"/>
<rect x="369.40" y="476.50" width="9.00" height="6.8" fill="#d6d6d6" stroke="#888" stroke-width="0.7"/>
<text x="106.00" y="497.10" font-size="12.3" text-anchor="middle" >S1</text>
<text x="125.80" y="497.10" font-size="12.3" text-anchor="middle" >S2</text>
<text x="170.80" y="497.10" font-size="12.3" text-anchor="middle" >S3</text>
<text x="226.20" y="497.10" font-size="12.3" text-anchor="middle" >S4</text>
<text x="252.70" y="497.10" font-size="12.3" text-anchor="middle" >S5</text>
<text x="276.20" y="497.10" font-size="12.3" text-anchor="middle" >S6</text>
<text x="324.50" y="497.10" font-size="12.3" text-anchor="middle" >S7</text>
<text x="373.30" y="497.10" font-size="12.3" text-anchor="middle" >S8</text>
<text x="49.00" y="400.40" font-size="25" font-weight="bold" fill="#000" >e</text>
<path d="M457.00,430.30 L427.80,419.60 Q433.80,430.30 427.80,441.00 Z" fill="#000"/>
<text x="1077.80" y="42.10" font-size="12.3" text-anchor="middle" textLength="231.50" lengthAdjust="spacingAndGlyphs" >OUTPUT: SV view + interactive cycle view</text>
<line x1="930.00" y1="51.10" x2="934.20" y2="51.10" stroke="#222" stroke-width="1.1" />
<text x="925.90" y="55.40" font-size="12.3" text-anchor="end" >100</text>
<line x1="930.00" y1="82.40" x2="934.20" y2="82.40" stroke="#222" stroke-width="1.1" />
<text x="925.90" y="86.70" font-size="12.3" text-anchor="end" >50</text>
<line x1="930.00" y1="113.70" x2="934.20" y2="113.70" stroke="#222" stroke-width="1.1" />
<text x="925.90" y="118.00" font-size="12.3" text-anchor="end" >0</text>
<text x="893.00" y="82.40" font-size="12.3" text-anchor="middle" transform="rotate(-90.00 893.00 82.40)" dy="4.3">Coverage</text>
<line x1="1220.80" y1="51.10" x2="1225.10" y2="51.10" stroke="#222" stroke-width="1.1" />
<text x="1229.30" y="55.40" font-size="12.3" >50</text>
<line x1="1220.80" y1="82.40" x2="1225.10" y2="82.40" stroke="#222" stroke-width="1.1" />
<text x="1229.30" y="86.70" font-size="12.3" >25</text>
<line x1="1220.80" y1="113.70" x2="1225.10" y2="113.70" stroke="#222" stroke-width="1.1" />
<text x="1229.30" y="118.00" font-size="12.3" >0</text>
<text x="1252.30" y="82.40" font-size="12.3" text-anchor="middle" transform="rotate(-90.00 1252.30 82.40)" dy="4.3">Copy number</text>
<path d="M940.30,113.70h2.40v-1.94h-2.40zM943.70,113.70h2.40v-1.26h-2.40zM947.20,113.70h2.00v-0.65h-2.00zM950.40,113.70h2.40v-14.98h-2.40zM953.60,113.70h2.40v-18.69h-2.40zM957.10,113.70h1.80v-14.86h-1.80zM959.90,113.70h2.00v-14.95h-2.00zM962.70,113.70h1.80v-12.90h-1.80zM965.60,113.70h1.80v-15.50h-1.80zM968.50,113.70h2.00v-14.59h-2.00zM971.50,113.70h1.80v-15.09h-1.80zM974.30,113.70h2.40v-16.27h-2.40zM977.50,113.70h2.20v-13.88h-2.20zM980.70,113.70h1.80v-13.02h-1.80zM983.50,113.70h1.80v-15.74h-1.80zM986.10,113.70h1.80v-13.52h-1.80zM988.70,113.70h2.40v-14.09h-2.40zM992.10,113.70h1.80v-18.18h-1.80zM994.90,113.70h1.80v-17.19h-1.80zM997.50,113.70h2.00v-15.87h-2.00zM1000.50,113.70h2.00v-17.56h-2.00zM1003.60,113.70h2.00v-14.24h-2.00zM1006.60,113.70h2.40v-18.90h-2.40zM1010.10,113.70h2.20v-16.35h-2.20zM1013.40,113.70h1.80v-17.31h-1.80zM1016.00,113.70h2.20v-15.68h-2.20zM1019.00,113.70h1.80v-13.50h-1.80zM1021.60,113.70h2.20v-14.07h-2.20zM1024.90,113.70h2.40v-17.10h-2.40zM1028.40,113.70h2.00v-13.86h-2.00zM1031.50,113.70h2.00v-18.01h-2.00zM1034.60,113.70h2.00v-15.18h-2.00zM1037.60,113.70h1.80v-15.80h-1.80zM1039.50,113.70h2.00v-40.41h-2.00zM1042.50,113.70h2.40v-46.19h-2.40zM1045.70,113.70h2.00v-37.14h-2.00zM1048.80,113.70h1.80v-37.47h-1.80zM1051.40,113.70h1.80v-36.12h-1.80zM1054.00,113.70h1.80v-35.98h-1.80zM1056.90,113.70h2.00v-44.36h-2.00zM1059.90,113.70h2.00v-39.45h-2.00zM1062.90,113.70h2.20v-40.16h-2.20zM1065.90,113.70h1.80v-38.76h-1.80zM1068.70,113.70h2.00v-45.01h-2.00zM1071.80,113.70h1.80v-41.43h-1.80zM1074.70,113.70h2.00v-40.75h-2.00zM1077.70,113.70h1.80v-40.06h-1.80zM1080.50,113.70h1.80v-41.20h-1.80zM1083.40,113.70h1.10v-41.80h-1.10zM1084.50,113.70h1.80v-2.19h-1.80zM1087.30,113.70h2.20v-1.04h-2.20zM1090.60,113.70h2.40v-1.14h-2.40zM1106.30,113.70h1.80v-1.29h-1.80zM1109.20,113.70h1.80v-0.89h-1.80zM1111.80,113.70h2.40v-0.34h-2.40zM1115.30,113.70h0.80v-1.24h-0.80zM1116.10,113.70h2.40v-16.78h-2.40zM1119.60,113.70h2.00v-14.59h-2.00zM1122.60,113.70h2.40v-14.52h-2.40zM1126.00,113.70h2.20v-13.47h-2.20zM1129.00,113.70h2.00v-14.12h-2.00zM1132.00,113.70h2.00v-13.25h-2.00zM1134.80,113.70h1.80v-16.10h-1.80zM1137.40,113.70h1.80v-14.35h-1.80zM1140.00,113.70h2.40v-14.11h-2.40zM1143.50,113.70h2.20v-15.28h-2.20zM1146.80,113.70h2.40v-13.89h-2.40zM1150.20,113.70h1.80v-15.15h-1.80zM1153.00,113.70h2.20v-15.05h-2.20zM1156.30,113.70h2.00v-18.54h-2.00zM1159.30,113.70h2.00v-15.50h-2.00zM1162.40,113.70h1.80v-14.34h-1.80zM1165.30,113.70h2.20v-16.13h-2.20zM1168.30,113.70h2.40v-13.67h-2.40zM1171.70,113.70h1.80v-13.40h-1.80zM1174.50,113.70h2.00v-14.15h-2.00zM1177.30,113.70h1.80v-14.21h-1.80zM1180.10,113.70h2.00v-18.98h-2.00zM1182.90,113.70h2.40v-14.70h-2.40zM1186.40,113.70h2.20v-14.40h-2.20zM1189.40,113.70h1.80v-15.30h-1.80zM1192.30,113.70h1.80v-13.52h-1.80zM1194.90,113.70h2.20v-14.65h-2.20zM1198.10,113.70h2.20v-15.96h-2.20zM1201.30,113.70h1.80v-12.90h-1.80zM1204.10,113.70h1.00v-18.69h-1.00zM1205.10,113.70h2.40v-1.82h-2.40zM1208.30,113.70h2.20v-1.60h-2.20zM1211.30,113.70h2.40v-0.58h-2.40z" fill="#adadad"/>
<line x1="930.00" y1="113.70" x2="1225.10" y2="113.70" stroke="#222" stroke-width="1.3" />
<line x1="1100.10" y1="51.70" x2="1100.10" y2="142.20" stroke="#333" stroke-width="1" stroke-dasharray="1.6,1.2"/>
<line x1="934.00" y1="141.84" x2="1221.30" y2="141.84" stroke="#555" stroke-width="1.2" />
<line x1="941.10" y1="141.84" x2="941.10" y2="145.84" stroke="#333" stroke-width="1.1" />
<line x1="1093.00" y1="141.84" x2="1093.00" y2="145.84" stroke="#333" stroke-width="1.1" />
<line x1="1107.10" y1="141.84" x2="1107.10" y2="145.84" stroke="#333" stroke-width="1.1" />
<line x1="1214.00" y1="141.84" x2="1214.00" y2="145.84" stroke="#333" stroke-width="1.1" />
<text x="1020.80" y="159.68" font-size="12.3" text-anchor="middle" >chr7</text>
<text x="1164.30" y="159.68" font-size="12.3" text-anchor="middle" >chr12</text>
<line x1="940.10" y1="110.70" x2="950.40" y2="110.70" stroke="#000" stroke-width="2.8" />
<line x1="949.90" y1="101.18" x2="1039.80" y2="101.18" stroke="#000" stroke-width="2.8" />
<line x1="1039.00" y1="76.45" x2="1085.00" y2="76.45" stroke="#000" stroke-width="2.8" />
<line x1="1084.20" y1="110.70" x2="1093.80" y2="110.70" stroke="#000" stroke-width="2.8" />
<line x1="1106.00" y1="110.70" x2="1116.30" y2="110.70" stroke="#000" stroke-width="2.8" />
<line x1="1115.70" y1="101.18" x2="1206.40" y2="101.18" stroke="#000" stroke-width="2.8" />
<line x1="1205.20" y1="110.70" x2="1215.00" y2="110.70" stroke="#000" stroke-width="2.8" />
<path d="M951.10,113.70 A66.35,54.60 0 0 1 1083.80,113.70" fill="none" stroke="#bf9372" stroke-width="1.15"/>
<path d="M972.40,113.70 A55.70,52.00 0 0 1 1083.80,113.70" fill="none" stroke="#8b4a1e" stroke-width="1.9"/>
<path d="M972.80,113.70 A33.30,46.40 0 0 1 1039.40,113.70" fill="none" stroke="#ff0000" stroke-width="1.8"/>
<path d="M1039.80,113.70 A38.30,47.60 0 0 1 1116.40,113.70" fill="none" stroke="#4fb3b3" stroke-width="1.1"/>
<path d="M1083.80,113.70 A60.55,54.30 0 0 1 1204.90,113.70" fill="none" stroke="#ff00ff" stroke-width="2.0"/>
<line x1="968.00" y1="112.50" x2="972.00" y2="112.50" stroke="#ff0000" stroke-width="2.4" />
<line x1="972.00" y1="112.50" x2="977.30" y2="112.50" stroke="#8b4a1e" stroke-width="2.4" />
<line x1="1039.50" y1="112.50" x2="1044.50" y2="112.50" stroke="#ff0000" stroke-width="2.4" />
<line x1="1079.50" y1="112.50" x2="1084.70" y2="112.50" stroke="#ff00ff" stroke-width="2.4" />
<line x1="1200.50" y1="112.50" x2="1205.80" y2="112.50" stroke="#ff00ff" stroke-width="2.4" />
<rect x="940.80" y="116.60" width="9.70" height="6.8" fill="#d6d6d6" stroke="#888" stroke-width="0.7"/>
<rect x="950.50" y="116.60" width="22.10" height="6.8" fill="#a8852f" stroke="#888" stroke-width="0.7"/>
<rect x="972.60" y="116.60" width="66.60" height="6.8" fill="#ff3535" stroke="#888" stroke-width="0.7"/>
<rect x="1039.20" y="116.60" width="44.90" height="6.8" fill="#5d9937" stroke="#888" stroke-width="0.7"/>
<rect x="1084.10" y="116.60" width="9.00" height="6.8" fill="#d6d6d6" stroke="#888" stroke-width="0.7"/>
<rect x="1106.90" y="116.60" width="9.10" height="6.8" fill="#d6d6d6" stroke="#888" stroke-width="0.7"/>
<rect x="1116.00" y="116.60" width="88.90" height="6.8" fill="#88aaf0" stroke="#888" stroke-width="0.7"/>
<rect x="1204.90" y="116.60" width="9.00" height="6.8" fill="#d6d6d6" stroke="#888" stroke-width="0.7"/>
<text x="942.70" y="137.50" font-size="12.3" text-anchor="middle" >S1</text>
<text x="962.80" y="137.50" font-size="12.3" text-anchor="middle" >S2</text>
<text x="1010.10" y="137.50" font-size="12.3" text-anchor="middle" >S3</text>
<text x="1065.60" y="137.50" font-size="12.3" text-anchor="middle" >S4</text>
<text x="1089.40" y="137.50" font-size="12.3" text-anchor="middle" >S5</text>
<text x="1112.80" y="137.50" font-size="12.3" text-anchor="middle" >S6</text>
<text x="1164.30" y="137.50" font-size="12.3" text-anchor="middle" >S7</text>
<text x="1210.30" y="137.50" font-size="12.3" text-anchor="middle" >S8</text>
<text x="884.00" y="40.40" font-size="25" font-weight="bold" fill="#000" >g</text>
<text x="469.50" y="395.90" font-size="25" font-weight="bold" fill="#000" >f</text>
<text x="662.40" y="396.20" font-size="12.3" text-anchor="middle" textLength="217.10" lengthAdjust="spacingAndGlyphs" >Breakpoint graph and CN assignment</text>
<path d="M497.50,412.60 L488.20,412.60 L488.20,469.60 L583.90,469.70" fill="none" stroke="#b08058" stroke-width="1.6" stroke-dasharray="1.7,1.3" />
<path d="M567.90,412.60 L628.70,412.60" fill="none" stroke="#444" stroke-width="1.6" stroke-dasharray="4,3" />
<path d="M567.90,412.60 L567.90,445.20 L726.60,445.20 L726.60,470.00" fill="none" stroke="#ff0000" stroke-width="2.0" stroke-dasharray="4.4,2.4" />
<path d="M628.70,412.60 L628.70,430.20 L583.60,430.20 L583.90,469.70" fill="none" stroke="#8b4513" stroke-width="2.0" stroke-dasharray="4.4,2.4" />
<path d="M828.00,412.60 L828.00,470.20 L726.60,470.00" fill="none" stroke="#111" stroke-width="2.0" stroke-dasharray="4.4,2.4" />
<path d="M583.90,469.70 L583.90,495.60 L525.50,495.60 L525.60,516.60" fill="none" stroke="#ff00ff" stroke-width="2.0" stroke-dasharray="4.4,2.4" />
<path d="M726.60,470.00 L726.60,496.60 L799.60,496.60 L799.60,516.60 L792.60,516.60" fill="none" stroke="#2aa6a6" stroke-width="1.5" stroke-dasharray="1.7,1.3" />
<line x1="497.50" y1="412.60" x2="545.50" y2="412.60" stroke="#a07b26" stroke-width="3.0" />
<path d="M564.50,412.60 L539.50,405.10 L545.50,412.60 L539.50,420.10 Z" fill="#a07b26" stroke="#a07b26" stroke-width="0.6" stroke-linejoin="round"/>
<line x1="628.70" y1="412.60" x2="805.70" y2="412.60" stroke="#ff2222" stroke-width="3.0" />
<path d="M826.70,412.60 L799.70,405.30 L805.70,412.60 L799.70,419.90 Z" fill="#ff2222" stroke="#ff2222" stroke-width="0.6" stroke-linejoin="round"/>
<line x1="726.60" y1="470.00" x2="626.10" y2="470.00" stroke="#5e9d3c" stroke-width="6.5" />
<path d="M588.50,470.00 L639.10,456.80 L626.10,470.00 L639.10,483.20 Z" fill="#44901f" stroke="#44901f" stroke-width="2.2" stroke-linejoin="round"/>
<line x1="792.60" y1="516.60" x2="547.30" y2="516.60" stroke="#7ea6f4" stroke-width="3.3" />
<path d="M528.30,516.60 L553.30,509.20 L547.30,516.60 L553.30,524.00 Z" fill="#7ea6f4" stroke="#7ea6f4" stroke-width="0.6" stroke-linejoin="round"/>
<circle cx="497.50" cy="412.60" r="3.1" fill="#000"/>
<circle cx="567.90" cy="412.60" r="3.1" fill="#000"/>
<circle cx="628.70" cy="412.60" r="3.1" fill="#000"/>
<circle cx="828.00" cy="412.60" r="3.1" fill="#000"/>
<circle cx="583.90" cy="469.70" r="3.1" fill="#000"/>
<circle cx="726.60" cy="470.00" r="3.1" fill="#000"/>
<circle cx="525.60" cy="516.60" r="3.1" fill="#000"/>
<circle cx="792.60" cy="516.60" r="3.1" fill="#000"/>
<text x="521.10" y="432.40" font-size="12.3" text-anchor="middle" textLength="37.40" lengthAdjust="spacingAndGlyphs" >S2: 10</text>
<text x="597.10" y="426.40" font-size="12.3" text-anchor="middle" >0</text>
<text x="716.90" y="429.80" font-size="12.3" text-anchor="middle" textLength="37.40" lengthAdjust="spacingAndGlyphs" >S3: 10</text>
<text x="535.70" y="466.00" font-size="12.3" text-anchor="middle" >10</text>
<text x="572.40" y="463.80" font-size="12.3" text-anchor="middle" >10</text>
<text x="738.40" y="455.80" font-size="12.3" text-anchor="middle" >10</text>
<text x="789.00" y="466.70" font-size="12.3" text-anchor="middle" >10</text>
<text x="671.20" y="486.20" font-size="12.3" text-anchor="middle" textLength="36.50" lengthAdjust="spacingAndGlyphs" >S4: 30</text>
<text x="556.50" y="492.70" font-size="12.3" text-anchor="middle" >10</text>
<text x="766.00" y="492.70" font-size="12.3" text-anchor="middle" >10</text>
<text x="671.50" y="506.80" font-size="12.3" text-anchor="middle" textLength="37.20" lengthAdjust="spacingAndGlyphs" >S7: 10</text>
<path d="M841.30,468.00 L850.50,468.00 L850.50,150.40 L857.00,150.40" fill="none" stroke="#000" stroke-width="2.2" />
<path d="M882.30,149.90 L853.10,139.20 Q859.10,149.90 853.10,160.60 Z" fill="#000"/>
<text x="884.30" y="182.50" font-size="25" font-weight="bold" fill="#000" >h</text>
<path d="M1088.30,172.40 L1222.80,172.40 L1222.80,191.30 L1207.40,191.30" fill="none" stroke="#ff00ff" stroke-width="1.9" stroke-dasharray="3.5,1.8" />
<path d="M1039.10,172.40 L1017.80,172.40 L1017.80,191.30 L1112.10,191.30" fill="none" stroke="#2aa6a6" stroke-width="1.9" stroke-dasharray="3.5,1.8" />
<line x1="1039.10" y1="172.40" x2="1068.00" y2="172.40" stroke="#5a9a3a" stroke-width="3.6" />
<path d="M1086.00,172.40 L1063.00,164.70 L1068.00,172.40 L1063.00,180.10 Z" fill="#3f8a1f" stroke="#3f8a1f" stroke-width="0.6" stroke-linejoin="round"/>
<line x1="1112.10" y1="191.30" x2="1187.00" y2="191.30" stroke="#7ea6f4" stroke-width="3.6" />
<path d="M1205.00,191.30 L1182.00,183.60 L1187.00,191.30 L1182.00,199.00 Z" fill="#7ea6f4" stroke="#7ea6f4" stroke-width="0.6" stroke-linejoin="round"/>
<circle cx="1039.10" cy="172.40" r="3.1" fill="#000"/>
<circle cx="1088.30" cy="172.40" r="3.1" fill="#000"/>
<circle cx="1112.10" cy="191.30" r="3.1" fill="#000"/>
<circle cx="1207.60" cy="191.30" r="3.1" fill="#000"/>
<text x="974.40" y="183.60" font-size="12.3" textLength="38.10" lengthAdjust="spacingAndGlyphs" >C1: 10</text>
<path d="M978.60,204.60 L1002.30,204.60 L1002.30,217.50 L1039.20,217.50" fill="none" stroke="#ff0000" stroke-width="1.9" stroke-dasharray="3.5,1.8" />
<path d="M1089.20,217.50 L1104.30,217.50 L1104.30,230.50 L939.80,230.50 L939.80,204.60 L950.20,204.60" fill="none" stroke="#a5714a" stroke-width="2.0" stroke-dasharray="3.5,1.8" />
<line x1="951.00" y1="204.60" x2="957.80" y2="204.60" stroke="#a07b26" stroke-width="3.6" />
<path d="M975.80,204.60 L952.80,196.90 L957.80,204.60 L952.80,212.30 Z" fill="#a07b26" stroke="#a07b26" stroke-width="0.6" stroke-linejoin="round"/>
<line x1="1039.20" y1="217.50" x2="1068.50" y2="217.50" stroke="#5a9a3a" stroke-width="3.6" />
<path d="M1086.50,217.50 L1063.50,209.80 L1068.50,217.50 L1063.50,225.20 Z" fill="#3f8a1f" stroke="#3f8a1f" stroke-width="0.6" stroke-linejoin="round"/>
<circle cx="950.20" cy="204.60" r="3.1" fill="#000"/>
<circle cx="978.60" cy="204.60" r="3.1" fill="#000"/>
<circle cx="1039.20" cy="217.50" r="3.1" fill="#000"/>
<circle cx="1089.20" cy="217.50" r="3.1" fill="#000"/>
<text x="1006.80" y="211.00" font-size="12.3" textLength="38.30" lengthAdjust="spacingAndGlyphs" >C2: 10</text>
<text x="1165.00" y="226.80" font-size="12.3" text-anchor="middle" textLength="105.40" lengthAdjust="spacingAndGlyphs" >Decomposition into</text>
<text x="1165.60" y="241.50" font-size="12.3" text-anchor="middle" >simple cycles</text>
<path d="M1089.20,247.10 L1104.30,247.10 L1104.30,256.90 L955.50,256.90 L955.50,247.10 L972.20,247.10" fill="none" stroke="#a5714a" stroke-width="2.0" stroke-dasharray="3.5,1.8" />
<line x1="972.20" y1="247.10" x2="1021.80" y2="247.10" stroke="#ff2222" stroke-width="3.6" />
<path d="M1039.80,247.10 L1016.80,239.40 L1021.80,247.10 L1016.80,254.80 Z" fill="#ff2222" stroke="#ff2222" stroke-width="0.6" stroke-linejoin="round"/>
<line x1="1039.80" y1="247.10" x2="1068.50" y2="247.10" stroke="#5a9a3a" stroke-width="3.6" />
<path d="M1086.50,247.10 L1063.50,239.40 L1068.50,247.10 L1063.50,254.80 Z" fill="#3f8a1f" stroke="#3f8a1f" stroke-width="0.6" stroke-linejoin="round"/>
<circle cx="972.20" cy="247.10" r="3.1" fill="#000"/>
<circle cx="1089.20" cy="247.10" r="3.1" fill="#000"/>
<text x="912.50" y="254.30" font-size="12.3" textLength="37.90" lengthAdjust="spacingAndGlyphs" >C3: 10</text>
<path d="M1079.10,295.20 L1068.40,266.00 Q1079.10,272.00 1089.80,266.00 Z" fill="#000"/>
<text x="887.80" y="317.60" font-size="25" font-weight="bold" fill="#000" >i</text>
<path d="M1039.20,313.00 L916.50,313.00 L916.50,395.30 L1112.10,395.30" fill="none" stroke="#2aa6a6" stroke-width="1.9" stroke-dasharray="3.5,1.8" />
<path d="M1090.10,313.00 L1104.30,313.00 L1104.30,325.50 L939.80,325.50 L939.80,337.80 L950.20,337.80" fill="none" stroke="#a5714a" stroke-width="2.0" stroke-dasharray="3.5,1.8" />
<path d="M977.90,337.80 L1002.10,337.80 L1002.10,351.30 L1039.20,351.30" fill="none" stroke="#ff0000" stroke-width="1.9" stroke-dasharray="3.5,1.8" />
<path d="M1090.10,351.30 L1104.30,351.30 L1104.30,362.30 L954.90,362.30 L954.90,375.30 L972.20,375.30" fill="none" stroke="#a5714a" stroke-width="2.0" stroke-dasharray="3.5,1.8" />
<path d="M1090.10,375.30 L1222.80,375.30 L1222.80,395.30 L1206.50,395.30" fill="none" stroke="#ff00ff" stroke-width="1.9" stroke-dasharray="3.5,1.8" />
<line x1="1039.20" y1="313.00" x2="1069.50" y2="313.00" stroke="#5a9a3a" stroke-width="3.6" />
<path d="M1087.50,313.00 L1064.50,305.30 L1069.50,313.00 L1064.50,320.70 Z" fill="#3f8a1f" stroke="#3f8a1f" stroke-width="0.6" stroke-linejoin="round"/>
<line x1="951.00" y1="337.80" x2="957.50" y2="337.80" stroke="#a07b26" stroke-width="3.6" />
<path d="M975.50,337.80 L952.50,330.10 L957.50,337.80 L952.50,345.50 Z" fill="#a07b26" stroke="#a07b26" stroke-width="0.6" stroke-linejoin="round"/>
<line x1="1039.20" y1="351.30" x2="1069.50" y2="351.30" stroke="#5a9a3a" stroke-width="3.6" />
<path d="M1087.50,351.30 L1064.50,343.60 L1069.50,351.30 L1064.50,359.00 Z" fill="#3f8a1f" stroke="#3f8a1f" stroke-width="0.6" stroke-linejoin="round"/>
<line x1="972.20" y1="375.30" x2="1021.80" y2="375.30" stroke="#ff2222" stroke-width="3.6" />
<path d="M1039.80,375.30 L1016.80,367.60 L1021.80,375.30 L1016.80,383.00 Z" fill="#ff2222" stroke="#ff2222" stroke-width="0.6" stroke-linejoin="round"/>
<line x1="1039.80" y1="375.30" x2="1069.70" y2="375.30" stroke="#5a9a3a" stroke-width="3.6" />
<path d="M1087.70,375.30 L1064.70,367.60 L1069.70,375.30 L1064.70,383.00 Z" fill="#3f8a1f" stroke="#3f8a1f" stroke-width="0.6" stroke-linejoin="round"/>
<line x1="1112.10" y1="395.30" x2="1186.00" y2="395.30" stroke="#7ea6f4" stroke-width="3.6" />
<path d="M1204.00,395.30 L1181.00,387.60 L1186.00,395.30 L1181.00,403.00 Z" fill="#7ea6f4" stroke="#7ea6f4" stroke-width="0.6" stroke-linejoin="round"/>
<circle cx="1039.20" cy="313.00" r="3.1" fill="#000"/>
<circle cx="1090.10" cy="313.00" r="3.1" fill="#000"/>
<circle cx="950.20" cy="337.80" r="3.1" fill="#000"/>
<circle cx="977.90" cy="337.80" r="3.1" fill="#000"/>
<circle cx="1039.20" cy="351.30" r="3.1" fill="#000"/>
<circle cx="1090.10" cy="351.30" r="3.1" fill="#000"/>
<circle cx="972.20" cy="375.30" r="3.1" fill="#000"/>
<circle cx="1090.10" cy="375.30" r="3.1" fill="#000"/>
<circle cx="1112.10" cy="395.30" r="3.1" fill="#000"/>
<circle cx="1206.50" cy="395.30" r="3.1" fill="#000"/>
<text x="1166.50" y="319.50" font-size="12.3" text-anchor="middle" >Merge cycles:</text>
<text x="1166.50" y="334.60" font-size="12.3" text-anchor="middle" >True structure</text>
<text x="1166.50" y="360.30" font-size="12.3" text-anchor="middle" textLength="110.00" lengthAdjust="spacingAndGlyphs" >(C1 + C3) + C2: 10</text>
<text x="887.00" y="427.20" font-size="25" font-weight="bold" fill="#000" >j</text>
<path d="M1039.20,422.60 L916.50,422.60 L916.50,504.70 L1112.10,504.70" fill="none" stroke="#2aa6a6" stroke-width="1.9" stroke-dasharray="3.5,1.8" />
<path d="M1087.90,422.60 L1104.30,422.60 L1104.30,433.60 L955.50,433.60 L955.50,447.20 L972.20,447.20" fill="none" stroke="#a5714a" stroke-width="2.0" stroke-dasharray="3.5,1.8" />
<path d="M1089.20,447.20 L1104.30,447.20 L1104.30,458.80 L939.80,458.80 L939.80,471.40 L950.20,471.40" fill="none" stroke="#a5714a" stroke-width="2.0" stroke-dasharray="3.5,1.8" />
<path d="M977.90,471.40 L1002.10,471.40 L1002.10,484.30 L1039.20,484.30" fill="none" stroke="#ff0000" stroke-width="1.9" stroke-dasharray="3.5,1.8" />
<path d="M1089.20,484.30 L1222.80,484.30 L1222.80,504.70 L1206.50,504.70" fill="none" stroke="#ff00ff" stroke-width="1.9" stroke-dasharray="3.5,1.8" />
<line x1="1039.20" y1="422.60" x2="1067.50" y2="422.60" stroke="#5a9a3a" stroke-width="3.6" />
<path d="M1085.50,422.60 L1062.50,414.90 L1067.50,422.60 L1062.50,430.30 Z" fill="#3f8a1f" stroke="#3f8a1f" stroke-width="0.6" stroke-linejoin="round"/>
<line x1="972.20" y1="447.20" x2="1021.80" y2="447.20" stroke="#ff2222" stroke-width="3.6" />
<path d="M1039.80,447.20 L1016.80,439.50 L1021.80,447.20 L1016.80,454.90 Z" fill="#ff2222" stroke="#ff2222" stroke-width="0.6" stroke-linejoin="round"/>
<line x1="1039.80" y1="447.20" x2="1068.50" y2="447.20" stroke="#5a9a3a" stroke-width="3.6" />
<path d="M1086.50,447.20 L1063.50,439.50 L1068.50,447.20 L1063.50,454.90 Z" fill="#3f8a1f" stroke="#3f8a1f" stroke-width="0.6" stroke-linejoin="round"/>
<line x1="951.00" y1="471.40" x2="957.50" y2="471.40" stroke="#a07b26" stroke-width="3.6" />
<path d="M975.50,471.40 L952.50,463.70 L957.50,471.40 L952.50,479.10 Z" fill="#a07b26" stroke="#a07b26" stroke-width="0.6" stroke-linejoin="round"/>
<line x1="1039.20" y1="484.30" x2="1068.50" y2="484.30" stroke="#5a9a3a" stroke-width="3.6" />
<path d="M1086.50,484.30 L1063.50,476.60 L1068.50,484.30 L1063.50,492.00 Z" fill="#3f8a1f" stroke="#3f8a1f" stroke-width="0.6" stroke-linejoin="round"/>
<line x1="1112.10" y1="504.70" x2="1186.00" y2="504.70" stroke="#7ea6f4" stroke-width="3.6" />
<path d="M1204.00,504.70 L1181.00,497.00 L1186.00,504.70 L1181.00,512.40 Z" fill="#7ea6f4" stroke="#7ea6f4" stroke-width="0.6" stroke-linejoin="round"/>
<circle cx="1039.20" cy="422.60" r="3.1" fill="#000"/>
<circle cx="1087.90" cy="422.60" r="3.1" fill="#000"/>
<circle cx="972.20" cy="447.20" r="3.1" fill="#000"/>
<circle cx="1089.20" cy="447.20" r="3.1" fill="#000"/>
<circle cx="950.20" cy="471.40" r="3.1" fill="#000"/>
<circle cx="977.90" cy="471.40" r="3.1" fill="#000"/>
<circle cx="1039.20" cy="484.30" r="3.1" fill="#000"/>
<circle cx="1089.20" cy="484.30" r="3.1" fill="#000"/>
<circle cx="1112.10" cy="504.70" r="3.1" fill="#000"/>
<circle cx="1206.50" cy="504.70" r="3.1" fill="#000"/>
<text x="1168.70" y="429.50" font-size="12.3" text-anchor="middle" >Merge cycles:</text>
<text x="1168.70" y="444.60" font-size="12.3" text-anchor="middle" textLength="100.60" lengthAdjust="spacingAndGlyphs" >Alternate structure</text>
<text x="1168.70" y="470.30" font-size="12.3" text-anchor="middle" textLength="110.10" lengthAdjust="spacingAndGlyphs" >(C1 + C2) + C3: 10</text>
</svg></body></html>
